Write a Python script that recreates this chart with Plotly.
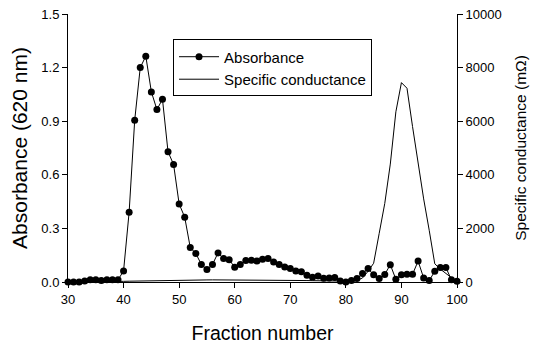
import plotly.graph_objects as go

fractions = list(range(30, 101))

absorbance = [
    0.000, 0.000, 0.000, 0.005, 0.012, 0.012, 0.008, 0.012, 0.012, 0.012,  # 30-39
    0.062, 0.391, 0.905, 1.200, 1.264, 1.064, 0.965, 1.023, 0.729, 0.658,  # 40-49
    0.437, 0.363, 0.193, 0.160, 0.098, 0.070, 0.098, 0.163, 0.131, 0.125,  # 50-59
    0.082, 0.098, 0.120, 0.122, 0.118, 0.127, 0.131, 0.112, 0.098, 0.084,  # 60-69
    0.075, 0.062, 0.058, 0.038, 0.026, 0.034, 0.021, 0.022, 0.025, 0.006,  # 70-79
    0.000, 0.008, 0.019, 0.047, 0.075, 0.040, 0.019, 0.042, 0.097, 0.015,  # 80-89
    0.040, 0.044, 0.043, 0.117, 0.022, 0.008, 0.060, 0.081, 0.081, 0.012,  # 90-99
    0.004,                                                                  # 100
]

conductance = [
    0, 0, 0, 0, 0, 0, 5, 10, 15, 20,                 # 30-39
    25, 30, 35, 40, 45, 50, 55, 60, 62, 65,          # 40-49
    68, 70, 72, 74, 76, 78, 80, 80, 80, 80,          # 50-59
    80, 80, 80, 80, 78, 76, 74, 72, 70, 68,          # 60-69
    66, 62, 58, 54, 50, 45, 40, 35, 30, 25,          # 70-79
    20, 30, 60, 150, 400, 700, 1815, 2930, 4400, 6350,  # 80-89
    7440, 7230, 5800, 4370, 3100, 1930, 680, 480, 320, 160,  # 90-99
    0,                                               # 100
]

x_ticks = [30, 40, 50, 60, 70, 80, 90, 100]
abs_ticks = [0.0, 0.3, 0.6, 0.9, 1.2, 1.5]
abs_labels = ["0.0", "0.3", "0.6", "0.9", "1.2", "1.5"]
cond_ticks = [0, 2000, 4000, 6000, 8000, 10000]
cond_labels = ["0", "2000", "4000", "6000", "8000", "10000"]

FONT = "Arial, Liberation Sans, sans-serif"

fig = go.Figure()
fig.add_trace(go.Scatter(
    x=fractions, y=absorbance, name="Absorbance",
    mode="lines+markers",
    line=dict(color="black", width=1),
    marker=dict(color="black", size=7),
    cliponaxis=False,
))
fig.add_trace(go.Scatter(
    x=fractions, y=conductance, name="Specific conductance",
    mode="lines", yaxis="y2",
    line=dict(color="black", width=1),
    cliponaxis=False,
))

axis_common = dict(
    showline=True, linecolor="black", linewidth=1,
    ticks="outside", ticklen=5, tickwidth=1, tickcolor="black",
    showgrid=False, zeroline=False, automargin=False,
    ticklabeloverflow="allow",
    tickfont=dict(family=FONT, size=13, color="black"),
)

# the page body adds an 8px offset, compensated in the margins
fig.update_layout(
    width=540, height=344,
    paper_bgcolor="white", plot_bgcolor="white",
    margin=dict(l=60, r=91, t=6, b=70),
    font=dict(family=FONT, color="black"),
    xaxis=dict(
        range=[30, 100], tickvals=x_ticks, ticktext=[str(v) for v in x_ticks],
        title=dict(text="Fraction number", font=dict(size=19.5), standoff=20),
        **axis_common,
    ),
    yaxis=dict(
        range=[0, 1.5], tickvals=abs_ticks, ticktext=abs_labels,
        title=dict(text="Absorbance (620 nm)", font=dict(size=21), standoff=9),
        **axis_common,
    ),
    yaxis2=dict(
        range=[0, 10000], tickvals=cond_ticks, ticktext=cond_labels,
        overlaying="y", side="right",
        title=dict(text="Specific conductance (mΩ)", font=dict(size=15.5), standoff=14),
        **axis_common,
    ),
    legend=dict(
        x=0.27, y=0.905, xanchor="left", yanchor="top",
        bordercolor="black", borderwidth=1, bgcolor="white",
        font=dict(family=FONT, size=15, color="black"),
        tracegroupgap=0, itemwidth=40,
    ),
    showlegend=True,
)

fig.write_html("out.html")
